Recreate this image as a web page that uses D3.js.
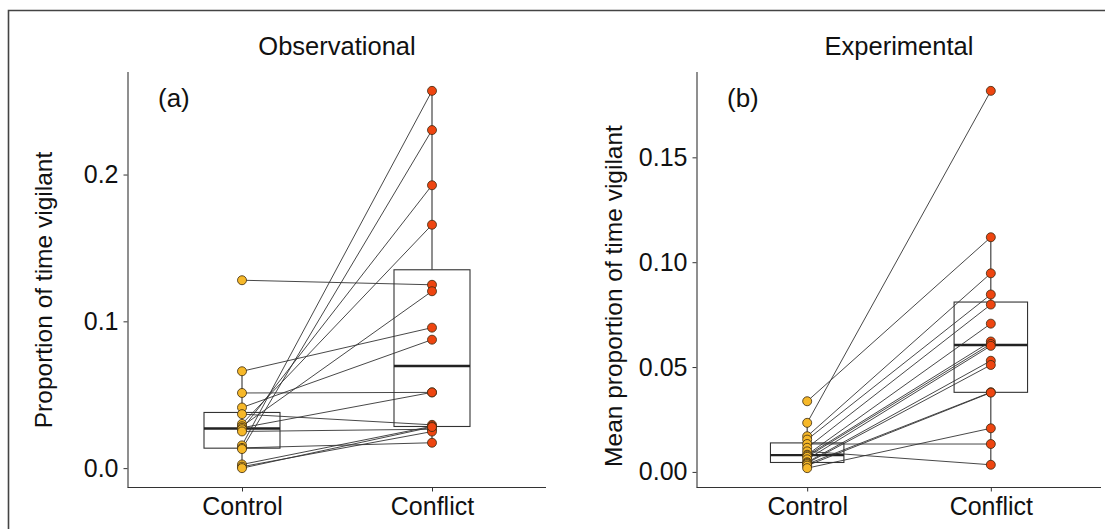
<!DOCTYPE html>
<html>
<head>
<meta charset="utf-8">
<script src="https://cdn.jsdelivr.net/npm/d3@7"></script>
<style>
  body { margin: 0; background: #fff; }
  text { font-family: "Liberation Sans", Arial, sans-serif; fill: #111; }
</style>
</head>
<body>
<div id="chart"></div>
<script>
// categories
var groups = ["Control", "Conflict"];

// observational study: paired values, same index = same individual
var obsControl  = [0.128, 0.066, 0.0512, 0.0413, 0.0368, 0.0301, 0.0285, 0.0275, 0.0265, 0.025, 0.0155, 0.0138, 0.013, 0.0025, 0.001, 0.0];
var obsConflict = [0.1249, 0.0957, 0.0516, 0.0875, 0.0295, 0.1658, 0.1205, 0.0516, 0.1927, 0.0265, 0.257, 0.0173, 0.2303, 0.0285, 0.0249, 0.028];

// experimental study
var expControl  = [0.0337, 0.0234, 0.017, 0.0154, 0.0133, 0.0115, 0.0098, 0.0082, 0.0078, 0.0072, 0.006, 0.0046, 0.0042, 0.0037, 0.003, 0.0018];
var expConflict = [0.1119, 0.1817, 0.0947, 0.0846, 0.0133, 0.0798, 0.0034, 0.0707, 0.0622, 0.061, 0.0601, 0.053, 0.051, 0.038, 0.0378, 0.0208];

// tick labels
var obsTicks = [0, 0.1, 0.2];
var expTicks = [0, 0.05, 0.10, 0.15];

var W = 1105, H = 529;
var colors = { Control: "#f6b829", Conflict: "#ee4510" };

var svg = d3.select("#chart").append("svg")
  .attr("width", W)
  .attr("height", H);

// outer frame (left and top edges only)
svg.append("path")
  .attr("d", "M8.5," + H + "V10.5H" + W)
  .attr("fill", "none")
  .attr("stroke", "#444")
  .attr("stroke-width", 1.6);

function boxStats(v){
  var s = v.slice().sort(d3.ascending);
  var q1 = d3.quantile(s, 0.25), med = d3.quantile(s, 0.5), q3 = d3.quantile(s, 0.75);
  var iqr = q3 - q1;
  var lo = d3.min(s.filter(function(d){ return d >= q1 - 1.5 * iqr; }));
  var hi = d3.max(s.filter(function(d){ return d <= q3 + 1.5 * iqr; }));
  return { q1: q1, med: med, q3: q3, lo: lo, hi: hi };
}

function drawPanel(cfg){
  var top = 72, bottom = 487;
  var all = cfg.ctrl.concat(cfg.conf);
  var mn = d3.min(all), mx = d3.max(all), pad = (mx - mn) * 0.05;

  var x = d3.scalePoint().domain(groups).range([cfg.x0, cfg.x1]).padding(0.6);
  var y = d3.scaleLinear().domain([mn - pad, mx + pad]).range([bottom, top]);
  var g = svg.append("g");

  // boxes
  var sets = { Control: cfg.ctrl, Conflict: cfg.conf };
  var bw = x.step() * 0.4;
  groups.forEach(function(k){
    var b = boxStats(sets[k]), cx = x(k);
    g.append("line").attr("x1", cx).attr("x2", cx).attr("y1", y(b.hi)).attr("y2", y(b.q3))
      .attr("stroke", "#333").attr("stroke-width", 1.1);
    g.append("line").attr("x1", cx).attr("x2", cx).attr("y1", y(b.q1)).attr("y2", y(b.lo))
      .attr("stroke", "#333").attr("stroke-width", 1.1);
    g.append("rect")
      .attr("x", cx - bw / 2).attr("width", bw)
      .attr("y", y(b.q3)).attr("height", y(b.q1) - y(b.q3))
      .attr("fill", "#fff").attr("stroke", "#333").attr("stroke-width", 1.1);
    g.append("line").attr("x1", cx - bw / 2).attr("x2", cx + bw / 2)
      .attr("y1", y(b.med)).attr("y2", y(b.med))
      .attr("stroke", "#222").attr("stroke-width", 2.4);
  });

  // paired lines
  g.selectAll(".pair")
    .data(d3.range(cfg.ctrl.length))
    .enter().append("line")
    .attr("class", "pair")
    .attr("x1", x("Control")).attr("y1", function(i){ return y(cfg.ctrl[i]); })
    .attr("x2", x("Conflict")).attr("y2", function(i){ return y(cfg.conf[i]); })
    .attr("stroke", "#333").attr("stroke-width", 0.9);

  // points
  groups.forEach(function(k){
    g.selectAll(".dot-" + k)
      .data(sets[k])
      .enter().append("circle")
      .attr("cx", x(k))
      .attr("cy", function(d){ return y(d); })
      .attr("r", 4.5)
      .attr("fill", colors[k])
      .attr("stroke", "#3a2a10")
      .attr("stroke-width", 0.8);
  });

  // axes
  var yAxis = g.append("g")
    .attr("transform", "translate(" + (cfg.x0 - 0.5) + ",0)")
    .call(d3.axisLeft(y).tickValues(cfg.ticks).tickFormat(d3.format(cfg.fmt)).tickSize(4).tickSizeOuter(0).tickPadding(5));
  yAxis.select(".domain").attr("d", "M0.5," + top + "V" + (bottom + 0.5));
  var xAxis = g.append("g")
    .attr("transform", "translate(0," + (bottom + 0.5) + ")")
    .call(d3.axisBottom(x).tickSize(4).tickSizeOuter(0).tickPadding(6));
  xAxis.select(".domain").attr("d", "M" + (cfg.x0 - 0.5) + ",0H" + cfg.x1);
  g.selectAll(".domain").attr("stroke", "#333").attr("stroke-width", 1.1);
  g.selectAll(".tick line").attr("stroke", "#333");
  g.selectAll(".tick text").style("font-size", "25px").attr("fill", "#111");

  // titles and labels
  g.append("text")
    .attr("x", (cfg.x0 + cfg.x1) / 2).attr("y", 55)
    .attr("text-anchor", "middle")
    .style("font-size", "25.5px")
    .text(cfg.title);
  g.append("text")
    .attr("x", cfg.x0 + 30).attr("y", 107)
    .style("font-size", "26px")
    .text(cfg.tag);
  g.append("text")
    .attr("transform", "translate(" + cfg.ylabX + "," + cfg.ylabY + ") rotate(-90)")
    .attr("text-anchor", "middle")
    .style("font-size", "24.5px")
    .text(cfg.ylabel);
}

drawPanel({ x0: 128, x1: 546, ctrl: obsControl, conf: obsConflict, ticks: obsTicks, fmt: ".1f",
  title: "Observational", tag: "(a)", ylabel: "Proportion of time vigilant", ylabX: 52, ylabY: 290 });
drawPanel({ x0: 697, x1: 1101, ctrl: expControl, conf: expConflict, ticks: expTicks, fmt: ".2f",
  title: "Experimental", tag: "(b)", ylabel: "Mean proportion of time vigilant", ylabX: 622, ylabY: 296 });
</script>
</body>
</html>
